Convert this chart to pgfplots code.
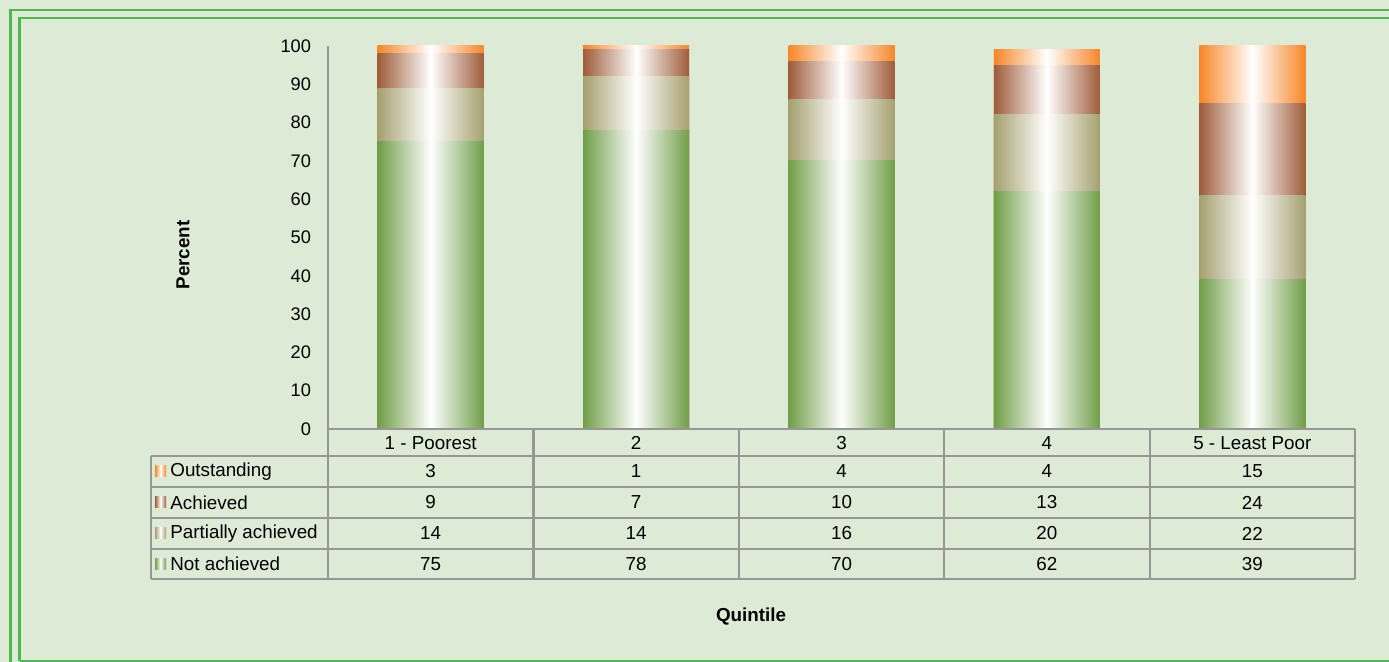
\documentclass[border=0pt]{standalone}
\usepackage{pgfplots}
\pgfplotsset{compat=1.18}
\usepackage{pgfplotstable}
\usepackage{fontspec}
\setmainfont{Liberation Sans}
\definecolor{bg}{RGB}{221,235,214}
\definecolor{frame}{RGB}{80,182,80}
\definecolor{cOut}{RGB}{247,134,40}
\definecolor{cAch}{RGB}{158,92,58}
\definecolor{cPar}{RGB}{165,160,112}
\definecolor{cNot}{RGB}{112,158,72}
\definecolor{gridc}{RGB}{150,150,150}
\pgfplotstableread{
x notach partial ach out
0 75 14 9 3
1 78 14 7 1
2 70 16 10 4
3 62 20 13 4
4 39 22 24 15
}\datatable
\newcommand{\fs}{\fontsize{9.4pt}{11pt}\selectfont}
\newcommand{\ft}{\fontsize{9.1pt}{11pt}\selectfont}
\pgfplotsset{
  shbar/.style={ybar, bar width=53pt, bar shift=0pt, draw=none, left color=#1, right color=#1, middle color=white},
}
\begin{document}
\begin{tikzpicture}[font=\fs]
\useasboundingbox (0,0) rectangle (694.5pt,331pt);
\fill[bg] (0,0) rectangle (694.5pt,331pt);
\begin{axis}[
  at={(164pt,116.5pt)}, anchor=south west,
  scale only axis, width=513.5pt, height=191.5pt,
  xmin=-0.5, xmax=4.5, ymin=0, ymax=100,
  axis x line*=bottom, axis y line*=left,
  axis line style={gridc, line width=1.1pt, -},
  xtick=\empty, ytick={0,10,...,100},
  major tick length=0pt,
  /pgf/number format/assume math mode=true,
  yticklabel style={font=\ft, anchor=east, xshift=-5pt},
  clip mode=individual,
]
% each segment is drawn as a bar from 0 to its cumulative top; later (lower) segments cover earlier ones
\pgfplotsinvokeforeach{0,...,4}{
\addplot[shbar=cOut, restrict x to domain=#1:#1] table[x=x,y expr=\thisrow{notach}+\thisrow{partial}+\thisrow{ach}+\thisrow{out}]{\datatable};
\addplot[shbar=cAch, restrict x to domain=#1:#1] table[x=x,y expr=\thisrow{notach}+\thisrow{partial}+\thisrow{ach}]{\datatable};
\addplot[shbar=cPar, restrict x to domain=#1:#1] table[x=x,y expr=\thisrow{notach}+\thisrow{partial}]{\datatable};
\addplot[shbar=cNot, restrict x to domain=#1:#1] table[x=x,y=notach]{\datatable};
}
\end{axis}
\begin{scope}[x=0.5pt, y=-0.5pt, yshift=331pt]
\begin{scope}[frame, line width=1.1pt]
\draw (10.5,700) -- (10.5,10) -- (1400,10);
\draw (19.5,661) -- (19.5,18) -- (1400,18);
\draw (19.5,661) -- (1400,661);
\end{scope}
% data table
\begin{scope}[gridc, line width=1.1pt]
\draw (328,429) -- (1355,429);
\foreach \yy in {456,487,518,549,579} \draw (151,\yy) -- (1355,\yy);
\draw (151,456) -- (151,579);
\foreach \xx in {328,533.4,738.8,944.2,1149.6,1355} \draw (\xx,429) -- (\xx,579);
\end{scope}
\foreach \lab [count=\k from 0] in {1 - Poorest,2,3,4,5 - Least Poor}
  \node at (430.7+205.4*\k,443) {\lab};
\foreach \col/\yy/\cc/\nm in {out/471.5/cOut/Outstanding,ach/502.5/cAch/Achieved,partial/533.5/cPar/Partially achieved,notach/564/cNot/Not achieved}{
  \shade[left color=\cc, right color=\cc, middle color=white] (155,\yy-5.5) rectangle (166,\yy+5.5);
  \node[anchor=west, inner sep=0pt] at (170,\yy) {\nm};
  \foreach \k in {0,...,4}{
    \pgfplotstablegetelem{\k}{\col}\of\datatable
    \node at (430.7+205.4*\k,\yy) {\pgfplotsretval};
  }
}
\node[rotate=90, font=\fs\bfseries] at (183,255) {Percent};
\node[font=\fs\bfseries] at (751,617) {Quintile};
\end{scope}
\end{tikzpicture}
\end{document}
